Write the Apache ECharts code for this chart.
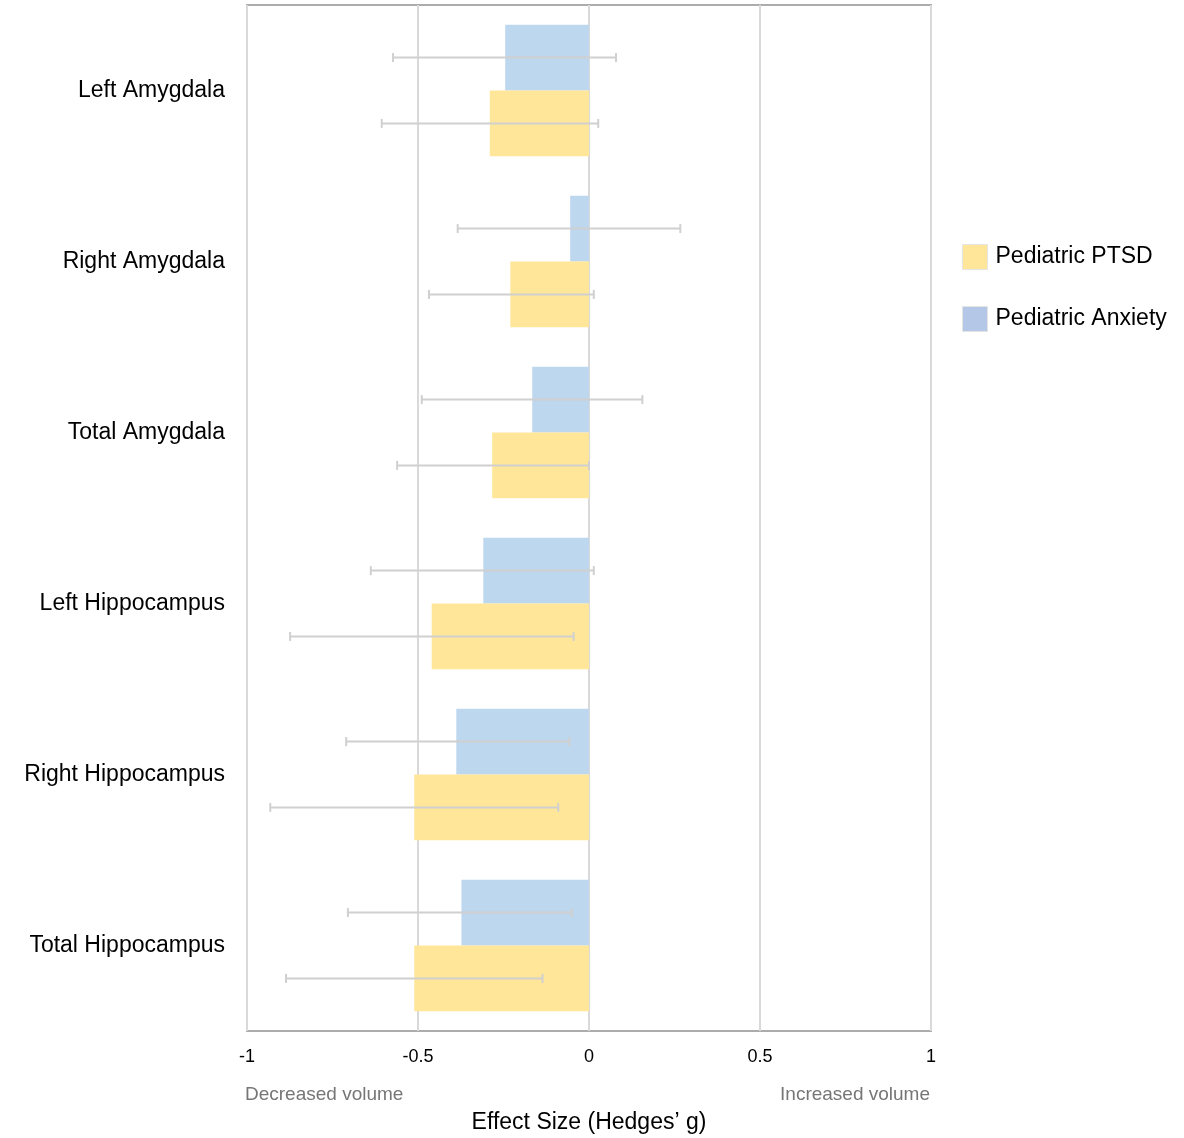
<!DOCTYPE html>
<html>
<head>
<meta charset="utf-8">
<script src="https://cdn.jsdelivr.net/npm/echarts@6/dist/echarts.min.js"></script>
<style>
  html, body { margin: 0; padding: 0; background: #fff; }
  #chart { width: 1184px; height: 1138px; }
</style>
</head>
<body>
<div id="chart"></div>
<script>
// regions, top to bottom
const regions = ['Left Amygdala', 'Right Amygdala', 'Total Amygdala',
  'Left Hippocampus', 'Right Hippocampus', 'Total Hippocampus'];

// Hedges' g per group
const anxietyG = [-0.245, -0.055, -0.166, -0.309, -0.388, -0.373];
const anxietyLo = [-0.573, -0.384, -0.489, -0.638, -0.710, -0.705];
const anxietyHi = [0.079, 0.267, 0.156, 0.014, -0.057, -0.050];

const ptsdG = [-0.290, -0.230, -0.283, -0.460, -0.511, -0.511];
const ptsdLo = [-0.606, -0.468, -0.561, -0.874, -0.932, -0.886];
const ptsdHi = [0.027, 0.014, 0.000, -0.045, -0.090, -0.136];

const xTicks = [-1, -0.5, 0, 0.5, 1];

const FONT = '"Liberation Sans", Arial, sans-serif';
const CAT_GAP = 0.23;

function errorSeries(name, lo, hi, side) {
  return {
    name: name + ' CI',
    type: 'custom',
    z: 5,
    silent: true,
    encode: { x: [1, 2], y: 0 },
    data: regions.map((r, i) => [i, lo[i], hi[i]]),
    renderItem(params, api) {
      const cat = api.value(0);
      const band = api.size([0, 1])[1];
      const off = side * band * (1 - CAT_GAP) / 4;
      const a = api.coord([api.value(1), cat]);
      const b = api.coord([api.value(2), cat]);
      const y = a[1] + off;
      const style = { stroke: '#d0d0d0', lineWidth: 2 };
      return {
        type: 'group',
        children: [
          { type: 'line', shape: { x1: a[0], y1: y, x2: b[0], y2: y }, style },
          { type: 'line', shape: { x1: a[0], y1: y - 4.5, x2: a[0], y2: y + 4.5 }, style },
          { type: 'line', shape: { x1: b[0], y1: y - 4.5, x2: b[0], y2: y + 4.5 }, style },
        ],
      };
    },
  };
}

const chart = echarts.init(document.getElementById('chart'));
chart.setOption({
  animation: false,
  textStyle: { fontFamily: FONT },
  grid: {
    left: 247, right: 253, top: 5, bottom: 107,
    outerBoundsMode: 'none',
    show: true, borderColor: '#acacac', borderWidth: 2,
  },
  legend: {
    orient: 'vertical',
    left: 957,
    top: 239,
    icon: 'rect',
    itemWidth: 25,
    itemHeight: 25,
    itemGap: 36,
    textStyle: { fontSize: 23, color: '#000', fontFamily: FONT, padding: [0, 0, 0, 3] },
    data: [
      { name: 'Pediatric PTSD', itemStyle: { color: '#ffe699', borderColor: '#e4e4e4', borderWidth: 1 } },
      { name: 'Pediatric Anxiety', itemStyle: { color: '#b4c7e7', borderColor: '#e4e4e4', borderWidth: 1 } },
    ],
  },
  xAxis: {
    type: 'value',
    min: xTicks[0],
    max: xTicks[xTicks.length - 1],
    interval: 0.5,
    axisLine: { show: false },
    axisTick: { show: false },
    splitLine: { show: true, lineStyle: { color: '#d9d9d9', width: 2 } },
    axisLabel: { fontSize: 18, color: '#000', margin: 17, fontFamily: FONT },
    name: 'Effect Size (Hedges\u2019 g)',
    nameLocation: 'middle',
    nameGap: 80,
    nameTextStyle: { fontSize: 23, color: '#000', fontFamily: FONT },
  },
  yAxis: {
    type: 'category',
    inverse: true,
    data: regions,
    axisLine: { show: false },
    axisTick: { show: false },
    axisLabel: { fontSize: 23, color: '#000', margin: 22, fontFamily: FONT },
  },
  graphic: [
    { type: 'text', left: 245, top: 1085, style: { text: 'Decreased volume', fontSize: 19, fill: '#767676', fontFamily: FONT } },
    { type: 'text', right: 254, top: 1085, style: { text: 'Increased volume', fontSize: 19, fill: '#767676', fontFamily: FONT } },
  ],
  series: [
    {
      name: 'Pediatric Anxiety',
      type: 'bar',
      data: anxietyG,
      barGap: '0%',
      barCategoryGap: (CAT_GAP * 100) + '%',
      itemStyle: { color: '#bdd7ee' },
    },
    {
      name: 'Pediatric PTSD',
      type: 'bar',
      data: ptsdG,
      barGap: '0%',
      barCategoryGap: (CAT_GAP * 100) + '%',
      itemStyle: { color: '#ffe699' },
    },
    errorSeries('Pediatric Anxiety', anxietyLo, anxietyHi, -1),
    errorSeries('Pediatric PTSD', ptsdLo, ptsdHi, 1),
  ],
});
</script>
</body>
</html>
